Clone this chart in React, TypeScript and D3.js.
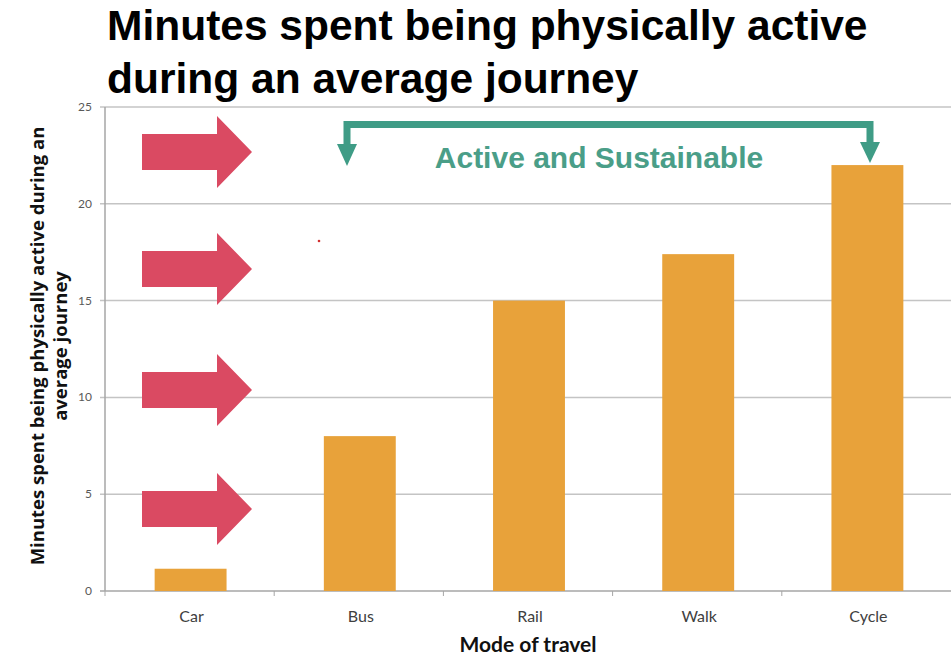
import React from "react";
import * as d3 from "d3";

const categories = ["Car", "Bus", "Rail", "Walk", "Cycle"];
const minutes = [1.15, 8, 15, 17.4, 22];
const yTicks = [0, 5, 10, 15, 20, 25];
const titleLines = ["Minutes spent being physically active", "during an average journey"];
const yTitleLines = ["Minutes spent being physically active during an", "average journey"];
const xTitle = "Mode of travel";
const bracketLabel = "Active and Sustainable";

const W = 951;
const H = 659;
const M = { left: 105, right: 951, top: 107, bottom: 591 };

export default function App() {
  const x = d3.scaleBand<string>().domain(categories).range([M.left, M.right]).paddingInner(0.575).paddingOuter(0.2875);
  const xb = d3.scaleBand<string>().domain(categories).range([M.left, M.right]);
  const y = d3.scaleLinear().domain([0, 25]).range([M.bottom, M.top]);

  const arrowCenters = [152, 269, 390, 509];
  const arrowPath = (cy: number) => {
    const x0 = 142, xs = 217, xt = 252;
    const sh = 18, hh = 36;
    return `M${x0},${cy - sh} L${xs},${cy - sh} L${xs},${cy - hh} L${xt},${cy} L${xs},${cy + hh} L${xs},${cy + sh} L${x0},${cy + sh} Z`;
  };

  const teal = "#3f9c86";
  const bx1 = 347, bx2 = 870, by = 124.5, bEnd = 146;
  const font = "Lato, 'Open Sans', sans-serif";

  return (
    <svg width={W} height={H} style={{ position: "absolute", left: 0, top: 0, background: "#fff" }}>
      <rect x={0} y={0} width={W} height={H} fill="#fff" />
      {yTicks.map((t) => (
        <line key={t} x1={M.left - 5} x2={M.right} y1={y(t)} y2={y(t)} stroke={t === 0 ? "#a6a6a6" : "#c4c4c4"} strokeWidth={1.5} />
      ))}
      <line x1={M.left} x2={M.left} y1={M.top} y2={M.bottom} stroke="#a6a6a6" strokeWidth={1.5} />
      {categories.map((c) => (
        <line key={c} x1={xb(c)!} x2={xb(c)!} y1={M.bottom} y2={M.bottom + 5} stroke="#a6a6a6" strokeWidth={1} />
      ))}
      {yTicks.map((t) => (
        <text key={t} x={M.left - 13} y={y(t) + 4} textAnchor="end" fontFamily={font} fontSize={12} fill="#595959">
          {t}
        </text>
      ))}
      {categories.map((c, i) => (
        <rect key={c} x={x(c)! + 1} y={y(minutes[i])} width={x.bandwidth()} height={y(0) - y(minutes[i])} fill="#e8a23a" />
      ))}
      {categories.map((c) => (
        <text key={c} x={xb(c)! + xb.bandwidth() / 2 + 2} y={622} textAnchor="middle" fontFamily={font} fontSize={16} fill="#404040">
          {c}
        </text>
      ))}
      <text x={(M.left + M.right) / 2} y={652} textAnchor="middle" fontFamily={font} fontWeight="bold" fontSize={21} fill="#111">
        {xTitle}
      </text>
      <g transform={`translate(0, 346) rotate(-90)`}>
        <text x={0} y={44} textAnchor="middle" fontFamily="'Open Sans', sans-serif" fontWeight="bold" fontSize={18.5} fill="#111">
          {yTitleLines[0]}
        </text>
        <text x={0} y={67} textAnchor="middle" fontFamily="'Open Sans', sans-serif" fontWeight="bold" fontSize={18.5} fill="#111">
          {yTitleLines[1]}
        </text>
      </g>
      {arrowCenters.map((cy, i) => (
        <path key={i} d={arrowPath(cy)} fill="#da4a62" />
      ))}
      <path d={`M${bx1},${bEnd} L${bx1},${by} L${bx2},${by} L${bx2},${bEnd}`} fill="none" stroke={teal} strokeWidth={7} />
      <path d={`M${bx1 - 10},${bEnd - 2} L${bx1 + 10},${bEnd - 2} L${bx1},${bEnd + 20} Z`} fill={teal} />
      <path d={`M${bx2 - 10},${bEnd - 4} L${bx2 + 10},${bEnd - 4} L${bx2},${bEnd + 17} Z`} fill={teal} />
      <text x={599} y={168} textAnchor="middle" fontFamily="'Liberation Sans', Arial, sans-serif" fontWeight="bold" fontSize={30} fill="#4a9e88">
        {bracketLabel}
      </text>
      <circle cx={319} cy={241} r={1.3} fill="#d23030" />
      {titleLines.map((l, i) => (
        <text key={i} x={107} y={40 + i * 53} fontFamily="'Liberation Sans', Arial, sans-serif" fontWeight="bold" fontSize={42.5} fill="#000">
          {l}
        </text>
      ))}
    </svg>
  );
}
